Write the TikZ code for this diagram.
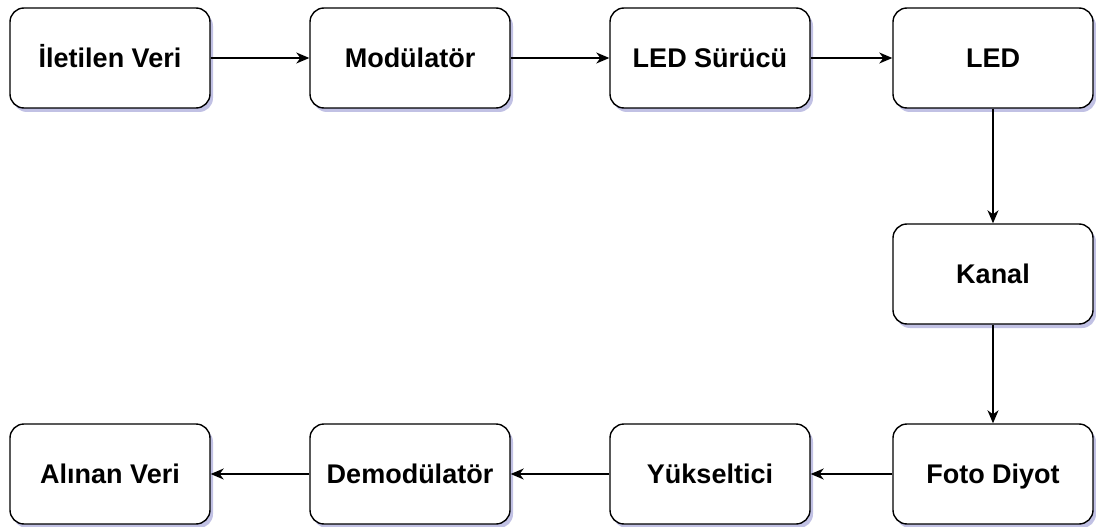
\documentclass[tikz,border=0pt]{standalone}
\usepackage{fontspec}
\setmainfont{Liberation Sans}
\usetikzlibrary{arrows.meta, shadows}

\begin{document}
\begin{tikzpicture}[x=1pt, y=-1pt, >={Stealth[length=13pt, width=11pt, inset=4pt]}, line width=1.4pt,
  blok/.style={draw, fill=white, rounded corners=14pt, minimum width=200pt, minimum height=100pt,
    inner sep=0pt, text height=19.5pt, text depth=0pt, font=\fontsize{27}{30}\selectfont\bfseries,
    drop shadow={shadow xshift=3pt, shadow yshift=-4pt, fill=blue!40!gray, opacity=0.35}}]
  \useasboundingbox (0,0) rectangle (1096,527);
  % verici tarafi
  \node[blok] (veri)  at (110,58)  {İletilen Veri};
  \node[blok] (mod)   at (410,58)  {Modülatör};
  \node[blok] (surucu) at (710,58) {LED Sürücü};
  \node[blok] (led)   at (993,58)  {LED};
  % kanal
  \node[blok] (kanal) at (993,274) {Kanal};
  % alici tarafi
  \node[blok] (foto)  at (993,474) {Foto Diyot};
  \node[blok] (yuk)   at (710,474) {Yükseltici};
  \node[blok] (demod) at (410,474) {Demodülatör};
  \node[blok] (alinan) at (110,474) {Alınan Veri};
  % baglantilar
  \foreach \a/\b in {veri/mod, mod/surucu, surucu/led, led/kanal, kanal/foto, foto/yuk, yuk/demod, demod/alinan}{
    \draw[->] (\a) -- (\b);}
\end{tikzpicture}
\end{document}
